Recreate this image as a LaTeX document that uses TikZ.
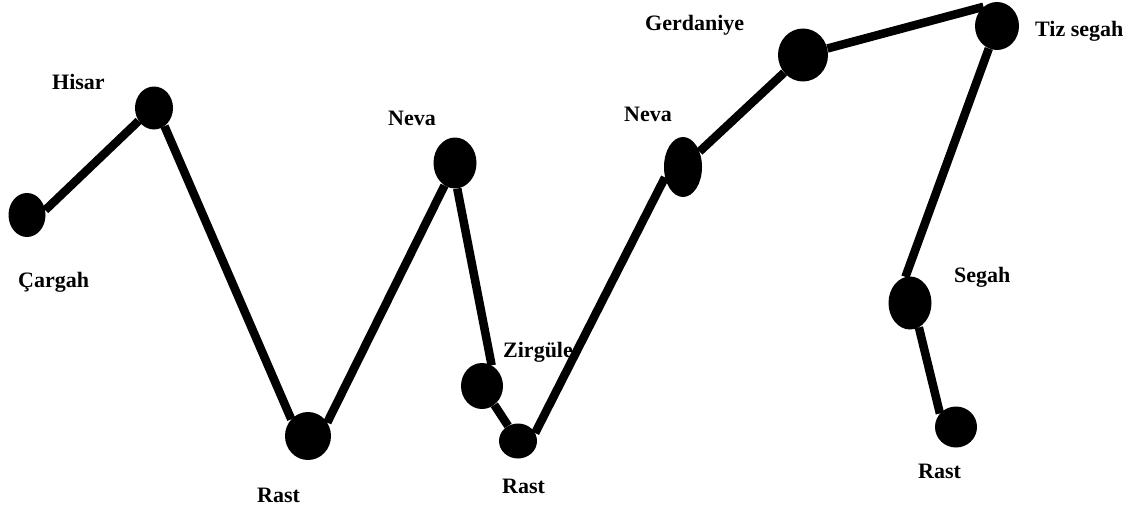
\documentclass[tikz,border=0pt]{standalone}
\usepackage{fontspec}
\setmainfont{Liberation Serif}
\usetikzlibrary{shapes.geometric}
\begin{document}
\begin{tikzpicture}[x=1pt,y=-1pt]
    \tikzstyle{dot}=[ellipse,fill=black,draw=none,inner sep=0pt]
    \tikzstyle{link}=[line width=8.5pt]
    \tikzstyle{note}=[anchor=base west,inner sep=0pt,font=\bfseries\fontsize{22}{22}\selectfont]
    \useasboundingbox (0,0) rectangle (1145,511);
    \node[dot,minimum width=37,minimum height=44] (n1) at (27,215){};
    \node[dot,minimum width=38,minimum height=43] (n2) at (154,108){};
    \node[dot,minimum width=46,minimum height=48] (n3) at (308,436){};
    \node[dot,minimum width=43,minimum height=51] (n4) at (455,163){};
    \node[dot,minimum width=42,minimum height=46] (n5) at (482,386){};
    \node[dot,minimum width=38,minimum height=35] (n6) at (518,441){};
    \node[dot,minimum width=38,minimum height=60] (n7) at (683,167){};
    \node[dot,minimum width=50,minimum height=53] (n8) at (803,55){};
    \node[dot,minimum width=44,minimum height=48] (n9) at (997,26){};
    \node[dot,minimum width=43,minimum height=53] (n10) at (910,303){};
    \node[dot,minimum width=42,minimum height=41] (n11) at (956,427){};
    \node[note] (t1) at (18,287){Çargah};
    \node[note] (t2) at (52,89){Hisar};
    \node[note] (t3) at (257,502){Rast};
    \node[note] (t4) at (388,125){Neva};
    \node[note] (t5) at (503,357){Zirgüle};
    \node[note] (t6) at (502,493){Rast};
    \node[note] (t7) at (624,121){Neva};
    \node[note] (t8) at (645,31){Gerdaniye};
    \node[note] (t9) at (1035,37){Tiz segah};
    \node[note] (t10) at (954,282){Segah};
    \node[note] (t11) at (918,478){Rast};
    \draw[link] (n1.15) -- (n2.-140);
    \draw[link] (n2.-60) -- (n3.135);
    \draw[link] (n3.35) -- (n4.-115);
    \draw[link] (n4.-85) -- (n5.65);
    \draw[link] (n5) -- (n6);
    \draw[link] (n6.25) -- (n7.-150);
    \draw[link] (n7) -- (n8);
    \draw[link] (n8) -- (n9.125);
    \draw[link] (n9.-110) -- (n10.100);
    \draw[link] (n10.-70) -- (n11.140);
    %\draw[link] (n11) -- (t11);
  \end{tikzpicture}
\end{document}
